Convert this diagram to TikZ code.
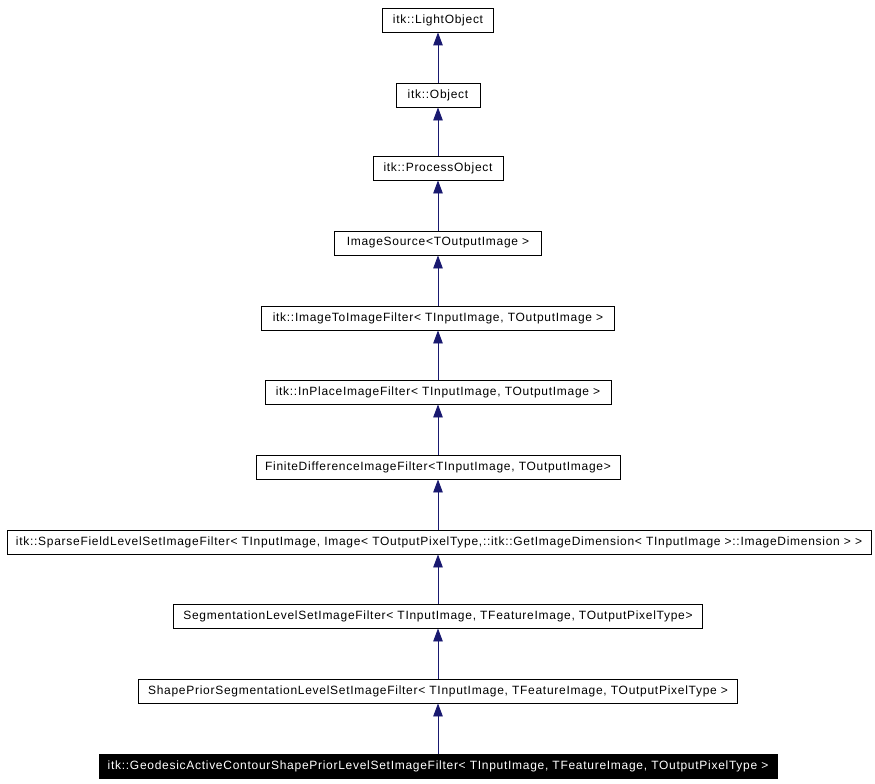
\documentclass[tikz,border=0pt]{standalone}
\usepackage{fontspec}
\setmainfont{Liberation Sans}[LetterSpace=6]
\usetikzlibrary{arrows.meta}
\definecolor{edgeblue}{HTML}{191970}
\tikzset{
  cls/.style={draw=black, line width=0.9pt, fill=white, minimum height=24pt,
    inner xsep=0pt, font=\fontsize{12}{14}\selectfont},
  curcls/.style={cls, fill=black, text=white},
  inh/.style={draw=edgeblue, line width=0.9pt,
    -{Triangle[length=13pt, width=9.5pt, fill=edgeblue]}}
}
\begin{document}
\begin{tikzpicture}[x=1pt, y=-1pt]
        \useasboundingbox (0,0) rectangle (875,784);
        \node[cls, minimum width=111pt] (lightobj) at (438,20) {itk::LightObject};
        \node[cls, minimum width=84pt] (obj) at (438,95) {itk::Object};
        \node[cls, minimum width=130pt] (procobj) at (438,168) {itk::ProcessObject};
        \node[cls, minimum width=207pt] (imgsrc) at (438,243) {ImageSource<TOutputImage >};
        \node[cls, minimum width=353pt] (img2img) at (438,318) {itk::ImageToImageFilter< TInputImage, TOutputImage >};
        \node[cls, minimum width=346pt] (inplace) at (438,392) {itk::InPlaceImageFilter< TInputImage, TOutputImage >};
        \node[cls, minimum width=364pt] (finitediff) at (438,467) {FiniteDifferenceImageFilter<TInputImage, TOutputImage>};
        \node[cls, minimum width=864pt] (sparse) at (439,542) {itk::SparseFieldLevelSetImageFilter< TInputImage, Image< TOutputPixelType,::itk::GetImageDimension< TInputImage >::ImageDimension > >};
        \node[cls, minimum width=529pt] (segm) at (438,616) {SegmentationLevelSetImageFilter< TInputImage, TFeatureImage, TOutputPixelType>};
        \node[cls, minimum width=599pt] (shapeprior) at (438,691) {ShapePriorSegmentationLevelSetImageFilter< TInputImage, TFeatureImage, TOutputPixelType >};
        \node[curcls, minimum width=678pt] (geodesic) at (438,766) {itk::GeodesicActiveContourShapePriorLevelSetImageFilter< TInputImage, TFeatureImage, TOutputPixelType >};
        % inheritance edges
        \draw[inh] (obj) -- (lightobj);
        \draw[inh] (procobj) -- (obj);
        \draw[inh] (imgsrc) -- (procobj);
        \draw[inh] (img2img) -- (imgsrc);
        \draw[inh] (inplace) -- (img2img);
        \draw[inh] (finitediff) -- (inplace);
        \draw[inh] (sparse.north -| finitediff.south) -- (finitediff);
        \draw[inh] (segm) -- (sparse.south -| segm.north);
        \draw[inh] (shapeprior) -- (segm);
        \draw[inh] (geodesic) -- (shapeprior);
    \end{tikzpicture}
\end{document}
